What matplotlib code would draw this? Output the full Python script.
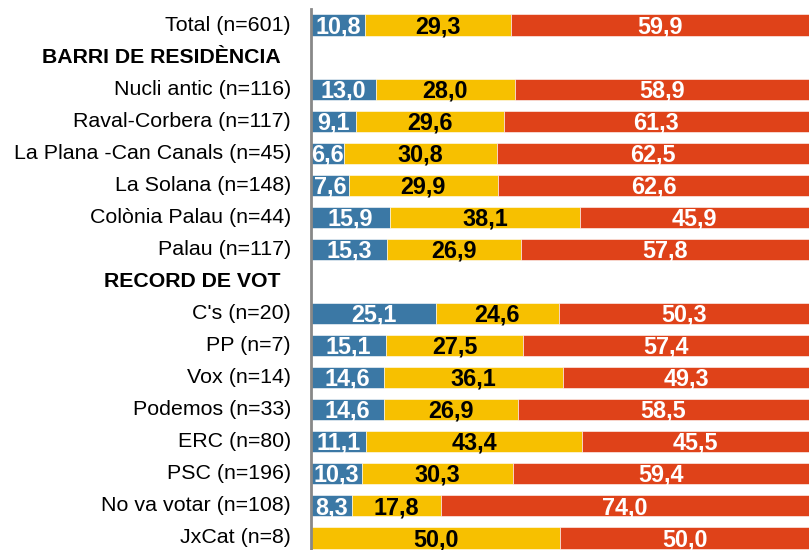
import matplotlib.pyplot as plt
from matplotlib import transforms

plt.rcParams['font.family'] = ['Liberation Sans', 'DejaVu Sans']

# rows (None = section header without bar)
labels = ["Total (n=601)", "BARRI DE RESIDÈNCIA", "Nucli antic (n=116)", "Raval-Corbera (n=117)",
          "La Plana -Can Canals (n=45)", "La Solana (n=148)", "Colònia Palau (n=44)", "Palau (n=117)",
          "RECORD DE VOT", "C's (n=20)", "PP (n=7)", "Vox (n=14)", "Podemos (n=33)", "ERC (n=80)",
          "PSC (n=196)", "No va votar (n=108)", "JxCat (n=8)"]
headers = ["BARRI DE RESIDÈNCIA", "RECORD DE VOT"]
blue = [10.8, None, 13.0, 9.1, 6.6, 7.6, 15.9, 15.3, None, 25.1, 15.1, 14.6, 14.6, 11.1, 10.3, 8.3, 0.0]
yellow = [29.3, None, 28.0, 29.6, 30.8, 29.9, 38.1, 26.9, None, 24.6, 27.5, 36.1, 26.9, 43.4, 30.3, 17.8, 50.0]
red = [59.9, None, 58.9, 61.3, 62.5, 62.6, 45.9, 57.8, None, 50.3, 57.4, 49.3, 58.5, 45.5, 59.4, 74.0, 50.0]

colors = ["#3b78a5", "#f7c000", "#df4219"]
txt_colors = ["white", "black", "white"]

fig = plt.figure(figsize=(8.1, 5.5), dpi=100)
ax = fig.add_axes([311 / 810, 0, 498 / 810, 1 - 9 / 550])

for i, lab in enumerate(labels):
    if blue[i] is None:
        continue
    left = 0
    for val, c, tc in zip([blue[i], yellow[i], red[i]], colors, txt_colors):
        if val > 0:
            ax.barh(i, val, left=left, height=0.66, color=c, edgecolor="white", linewidth=0.4)
            ax.text(left + val / 2, i + 0.05, f"{val:.1f}".replace(".", ","), ha="center", va="center",
                    color=tc, fontsize=16.8, fontweight="bold")
        left += val

trans = transforms.blended_transform_factory(ax.transAxes, ax.transData)
for i, lab in enumerate(labels):
    if lab in headers:
        off = transforms.offset_copy(trans, fig=fig, x=-30, y=0, units="dots")
        ax.text(0, i, lab, transform=off, ha="right", va="center", fontsize=15.3, fontweight="bold")
    else:
        off = transforms.offset_copy(trans, fig=fig, x=-20, y=0, units="dots")
        ax.text(0, i, lab, transform=off, ha="right", va="center", fontsize=15.4)

ax.set_xlim(0, 100)
ax.set_ylim(16.375, -0.5)
ax.set_xticks([])
ax.set_yticks([])
for s in ["top", "right", "bottom"]:
    ax.spines[s].set_visible(False)
ax.spines["left"].set_color("#888888")
ax.spines["left"].set_linewidth(2)

fig.savefig("out.png", dpi=100)
